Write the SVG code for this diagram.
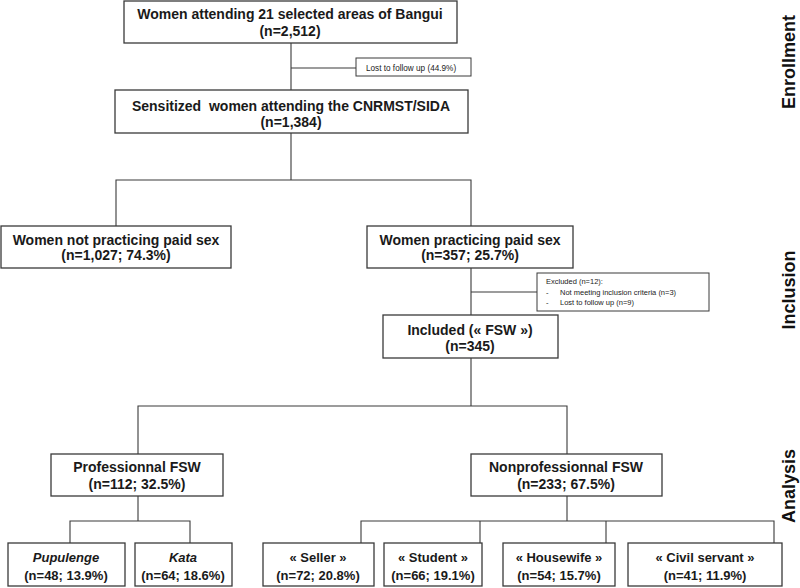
<svg xmlns="http://www.w3.org/2000/svg" width="800" height="588" viewBox="0 0 800 588">
<style>
.box{fill:#fff;stroke:#3a3a3a;stroke-width:1.3}
.t{font-family:"Liberation Sans",Arial,sans-serif;font-weight:bold;font-size:14px;fill:#1a1a1a;text-anchor:middle}
.b{font-family:"Liberation Sans",Arial,sans-serif;font-weight:bold;font-size:13px;fill:#1a1a1a;text-anchor:middle}
.s{font-family:"Liberation Sans",Arial,sans-serif;font-size:7.5px;fill:#222}
.side{font-family:"Liberation Sans",Arial,sans-serif;font-weight:bold;font-size:18px;fill:#111;text-anchor:middle}
.c{fill:none;stroke:#3a3a3a;stroke-width:1.1}
</style>
<rect width="800" height="588" fill="#fff"/>
<g id="connectors">
<path class="c" d="M291,43V90M291,68H356"/>
<path class="c" d="M291,133V180M116,226V180H471V226"/>
<path class="c" d="M471,268V315M471,292H537"/>
<path class="c" d="M471,358V406M138,454V406H567V454"/>
<path class="c" d="M138,496V521M70,543V521H190V543"/>
<path class="c" d="M567,496V521M361,543V521H774V543M480,521V543M606,521V543"/>
</g>
<g id="n1"><rect class="box" x="124" y="1" width="333" height="42"/><text class="t" x="290" y="19">Women attending 21 selected areas of Bangui</text><text class="t" x="290" y="36">(n=2,512)</text></g>
<g id="lost"><rect class="box" x="356" y="58" width="115" height="18" style="stroke-width:1"/><text class="s" x="366" y="70.5" style="font-size:8.2px">Lost to follow up (44.9%)</text></g>
<g id="n2"><rect class="box" x="115" y="90" width="353" height="43"/><text class="t" x="291" y="111" xml:space="preserve">Sensitized  women attending the CNRMST/SIDA</text><text class="t" x="291" y="127">(n=1,384)</text></g>
<g id="n3"><rect class="box" x="1" y="226" width="230" height="42"/><text class="t" x="116" y="245">Women not practicing paid sex</text><text class="t" x="116" y="260">(n=1,027; 74.3%)</text></g>
<g id="n4"><rect class="box" x="367" y="226" width="206" height="42"/><text class="t" x="470" y="245">Women practicing paid sex</text><text class="t" x="470" y="260">(n=357; 25.7%)</text></g>
<g id="excl"><rect class="box" x="537" y="273" width="172" height="38" style="stroke-width:1"/><text class="s" x="546" y="284">Excluded (n=12):</text><text class="s" x="546" y="294.5">-</text><text class="s" x="560" y="294.5">Not meeting inclusion criteria (n=3)</text><text class="s" x="546" y="305">-</text><text class="s" x="560" y="305">Lost to follow up (n=9)</text></g>
<g id="n5"><rect class="box" x="383" y="315" width="175" height="43"/><text class="t" x="470" y="335">Included (« FSW »)</text><text class="t" x="470" y="351">(n=345)</text></g>
<g id="n6"><rect class="box" x="51" y="454" width="172" height="42"/><text class="t" x="137" y="472">Professionnal FSW</text><text class="t" x="137" y="489">(n=112; 32.5%)</text></g>
<g id="n7"><rect class="box" x="471" y="454" width="191" height="42"/><text class="t" x="566" y="472">Nonprofessionnal FSW</text><text class="t" x="566" y="489">(n=233; 67.5%)</text></g>
<g id="n8"><rect class="box" x="8" y="543" width="117" height="43"/><text class="b" x="66" y="562" font-style="italic">Pupulenge</text><text class="b" x="66" y="580">(n=48; 13.9%)</text></g>
<g id="n9"><rect class="box" x="135" y="543" width="97" height="43"/><text class="b" x="183" y="562" font-style="italic">Kata</text><text class="b" x="183" y="580">(n=64; 18.6%)</text></g>
<g id="n10"><rect class="box" x="263" y="543" width="111" height="43"/><text class="b" x="318" y="562">« Seller »</text><text class="b" x="318" y="580">(n=72; 20.8%)</text></g>
<g id="n11"><rect class="box" x="384" y="543" width="98" height="43"/><text class="b" x="433" y="562">« Student »</text><text class="b" x="433" y="580">(n=66; 19.1%)</text></g>
<g id="n12"><rect class="box" x="503" y="543" width="112" height="43"/><text class="b" x="559" y="562">« Housewife »</text><text class="b" x="559" y="580">(n=54; 15.7%)</text></g>
<g id="n13"><rect class="box" x="628" y="543" width="154" height="43"/><text class="b" x="705" y="562">« Civil servant »</text><text class="b" x="705" y="580">(n=41; 11.9%)</text></g>
<g id="labels">
<text class="side" transform="translate(795,62) rotate(-90)">Enrollment</text>
<text class="side" transform="translate(795,290) rotate(-90)">Inclusion</text>
<text class="side" transform="translate(795,486) rotate(-90)">Analysis</text>
</g>
</svg>
